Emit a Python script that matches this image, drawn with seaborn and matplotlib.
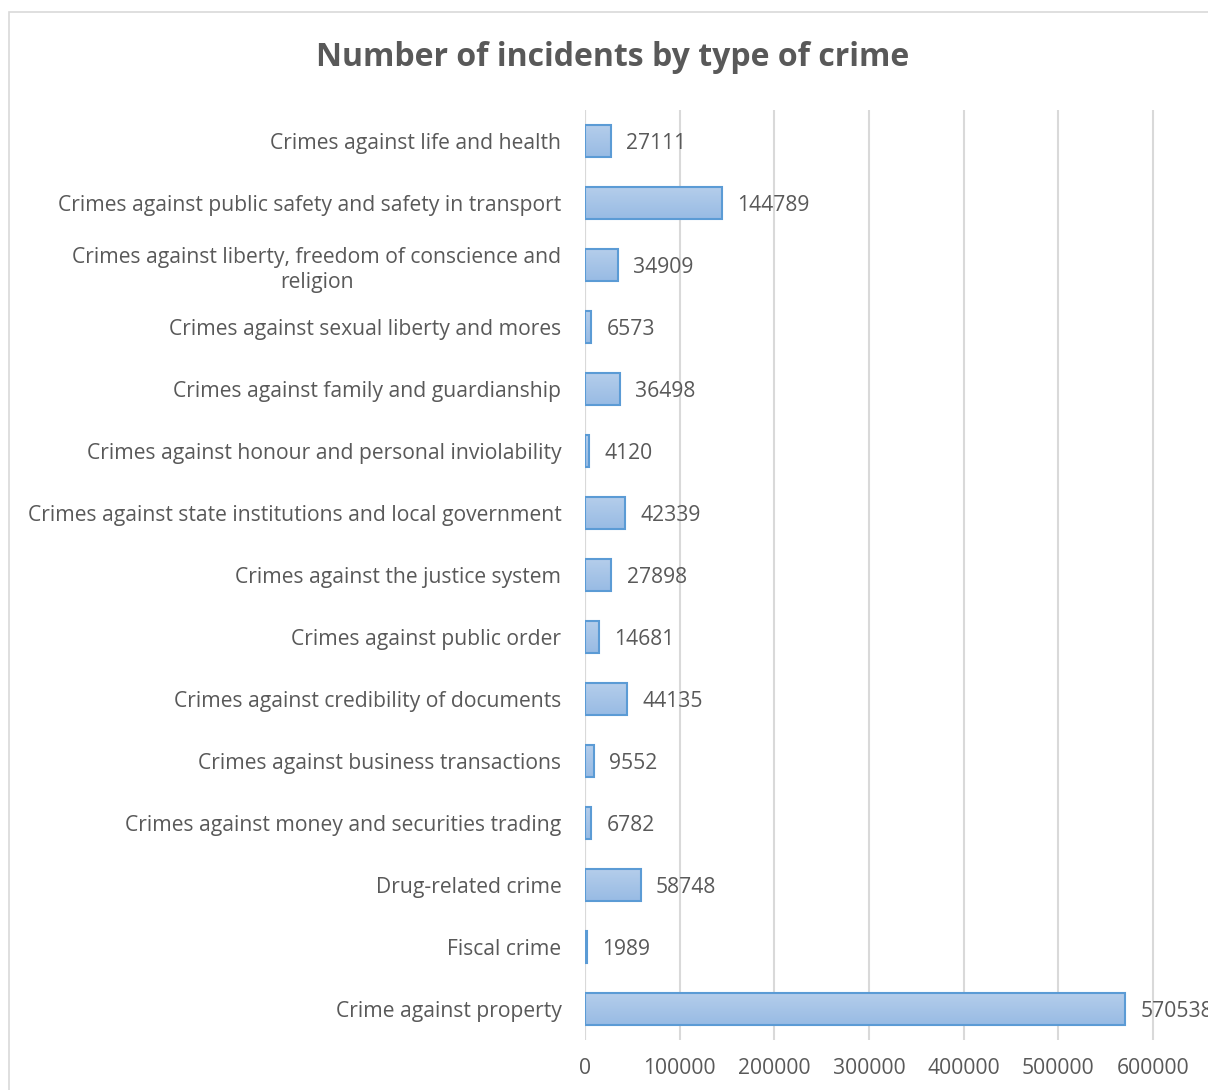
import pandas as pd
import seaborn as sns
import matplotlib.pyplot as plt
import numpy as np
from matplotlib.colors import LinearSegmentedColormap
from matplotlib.patches import Rectangle

# data
crimes = [
    "Crimes against life and health",
    "Crimes against public safety and safety in transport",
    "Crimes against liberty, freedom of conscience and\nreligion",
    "Crimes against sexual liberty and mores",
    "Crimes against family and guardianship",
    "Crimes against honour and personal inviolability",
    "Crimes against state institutions and local government",
    "Crimes against the justice system",
    "Crimes against public order",
    "Crimes against credibility of documents",
    "Crimes against business transactions",
    "Crimes against money and securities trading",
    "Drug-related crime",
    "Fiscal crime",
    "Crime against property",
]
incidents = [27111, 144789, 34909, 6573, 36498, 4120, 42339, 27898,
             14681, 44135, 9552, 6782, 58748, 1989, 570538]
x_ticks = [0, 100000, 200000, 300000, 400000, 500000, 600000]

df = pd.DataFrame({"crime": crimes, "incidents": incidents})

text_col = "#595959"
grid_col = "#D9D9D9"
edge_col = "#5B9BD5"
fs = 15.2

sns.set_theme(style="white")
plt.rcParams["font.family"] = ["Open Sans", "DejaVu Sans"]

fig = plt.figure(figsize=(12.08, 10.9), dpi=100)
ax = fig.add_axes([585 / 1208, 1 - 1040 / 1090, 1 - 585 / 1208, 930 / 1090])

sns.barplot(data=df, y="crime", x="incidents", orient="h", ax=ax,
            color="#A9C6E8", edgecolor=edge_col, linewidth=1.5, width=0.52)

ax.set_xlim(0, 658000)
xlim = ax.get_xlim()
ylim = ax.get_ylim()

# soft vertical gradient inside each bar, like the office chart
cmap = LinearSegmentedColormap.from_list("bar", ["#B5CEEB", "#98BBE4"])
grad = np.linspace(0, 1, 64).reshape(-1, 1)
for p in ax.patches:
    x0, y0 = p.get_x(), p.get_y()
    w, h = p.get_width(), p.get_height()
    im = ax.imshow(grad, cmap=cmap, aspect="auto", origin="upper",
                   extent=[x0, x0 + w, y0 + h, y0], zorder=2,
                   interpolation="bilinear")
    im.set_clip_path(p)
    p.set_facecolor("none")
    p.set_zorder(3)
ax.set_xlim(xlim)
ax.set_ylim(ylim)

# the last label runs past the right edge, as in the original
vals = ax.bar_label(ax.containers[0], labels=[str(v) for v in incidents],
                    padding=11, fontsize=fs, color=text_col)
for t in vals:
    t.set_va("center_baseline")

ax.set_xticks(x_ticks)
ax.set_xticklabels([str(t) for t in x_ticks])
ax.xaxis.grid(True, color=grid_col, linewidth=1.5)
ax.set_axisbelow(True)
for s in ax.spines.values():
    s.set_visible(False)
ax.axvline(0, color=grid_col, linewidth=1.5, zorder=1)
ax.tick_params(axis="x", length=0, pad=13, labelsize=fs, labelcolor=text_col)
ax.tick_params(axis="y", length=0, pad=17, labelsize=fs, labelcolor=text_col)
for lbl in ax.get_yticklabels():
    lbl.set_multialignment("center")
    lbl.set_linespacing(1.3)
ax.set_xlabel("")
ax.set_ylabel("")

fig.text(613 / 1208, 1 - 57 / 1090, "Number of incidents by type of crime",
         ha="center", va="center", fontsize=23, fontweight="bold",
         color=text_col)

# outer chart frame (cut off on the right and bottom)
fig.patches.append(Rectangle((9 / 1208, -0.1), 1.2, 1 - 12 / 1090 + 0.1,
                             transform=fig.transFigure, fill=False,
                             edgecolor=grid_col, linewidth=1.2))

fig.savefig("out.png", dpi=100)
